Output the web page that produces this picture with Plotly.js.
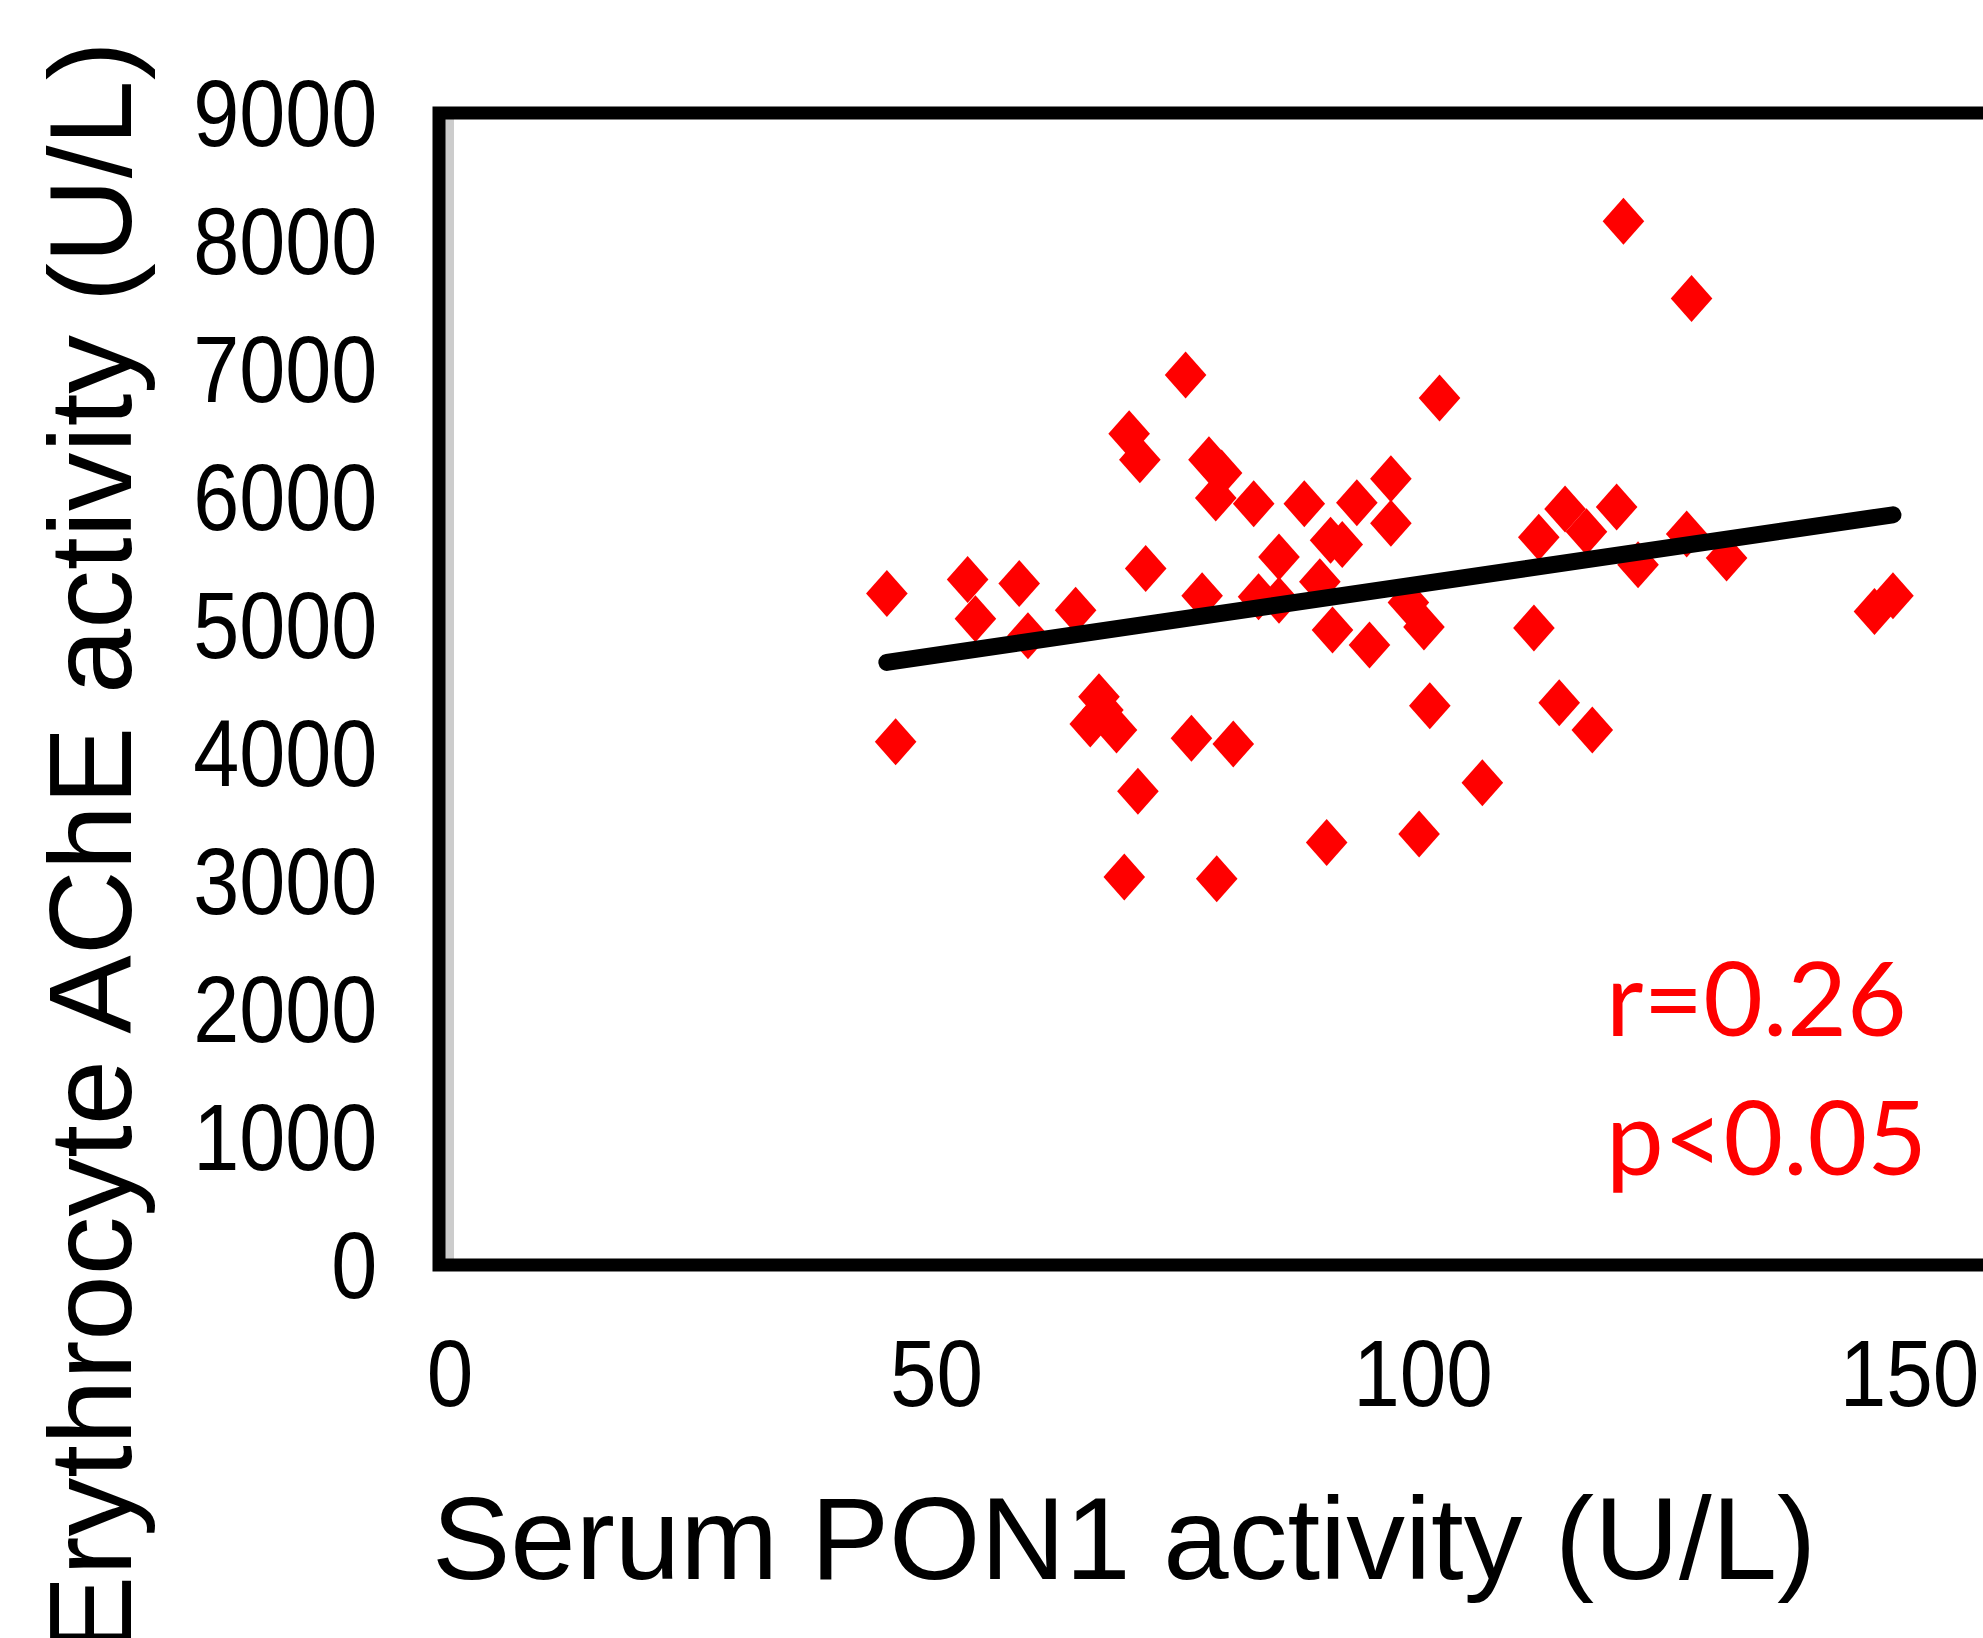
<!DOCTYPE html>
<html>
<head>
<meta charset="utf-8">
<script src="https://cdn.plot.ly/plotly-3.0.1.min.js"></script>
<style>
  html, body { margin: 0; padding: 0; background: #ffffff; overflow: hidden; width: 1983px; height: 1638px; }
  #chart { width: 2027px; height: 1638px; }
  .scatterlayer .js-line { stroke-linecap: round !important; }
</style>
</head>
<body>
<div id="chart"></div>
<script>
// Serum PON1 activity (U/L)
const ponActivity = [44.9, 45.8, 53.2, 54.0, 58.5, 59.4, 64.3, 66.7, 65.8, 68.5,
  67.1, 69.8, 70.9, 69.3, 70.7, 71.5, 75.6, 76.2, 77.3, 78.0,
  79.3, 78.7, 78.8, 80.5, 82.6, 83.1, 85.2, 85.2, 87.8, 89.4,
  90.1, 90.7, 90.5, 91.7, 93.2, 94.5, 96.7, 96.7, 98.5, 99.6,
  100.1, 100.7, 101.7, 106.1, 111.4, 111.9, 114.0, 114.6, 116.8, 117.4,
  119.9, 120.6, 122.1, 127.1, 127.6, 131.2, 146.4, 148.3];
// Erythrocyte AChE activity (U/L)
const acheActivity = [5246, 4087, 5355, 5049, 5324, 4916, 5116, 4440, 4227, 4180,
  4336, 6494, 6291, 3031, 3702, 5441, 6954, 4115, 5228, 6291,
  6187, 5992, 3018, 4071, 5948, 5220, 5532, 5194, 5948, 5337,
  3301, 4960, 5662, 5628, 5956, 4843, 5795, 6143, 5176, 3367,
  4984, 4370, 6773, 3767, 4976, 5685, 4393, 5906, 5729, 4180,
  5922, 8154, 5471, 5711, 7550, 5524, 5105, 5229];
// linear trend line end points
const trendX = [44.9, 148.3];
const trendY = [4708, 5861];
const xTickVals = [0, 50, 100, 150];
const xTickText = ['0', '50', '100', '150'];
const yTickVals = [0, 1000, 2000, 3000, 4000, 5000, 6000, 7000, 8000, 9000];
const yTickText = ['0', '1000', '2000', '3000', '4000', '5000', '6000', '7000', '8000', '9000'];
const statLines = ['r=0.26', 'p<0.05'];

const ML = 439, MT = 113, PW = 1568, PH = 1152;
function px(x) { return (x - ML) / PW; }
function py(y) { return 1 - (y - MT) / PH; }

const tickFont = { family: '"Liberation Sans", Arial, sans-serif', size: 94, color: '#000000' };
const titleFont = { family: '"Liberation Sans", Arial, sans-serif', size: 117.5, color: '#000000' };
const statFont = { family: 'Lato, "Open Sans", sans-serif', size: 103, color: '#ff0000' };

const traces = [
  {
    type: 'scatter', mode: 'markers',
    x: ponActivity, y: acheActivity,
    marker: { symbol: 'diamond', size: 32, color: '#ff0000', line: { width: 0 } },
    hoverinfo: 'skip'
  },
  {
    type: 'scatter', mode: 'lines',
    x: trendX, y: trendY,
    line: { color: '#000000', width: 17 },
    hoverinfo: 'skip'
  }
];

const layout = {
  width: ML + PW + 20, height: 1638,
  margin: { l: ML, r: 20, t: MT, b: 1638 - MT - PH, pad: 0 },
  paper_bgcolor: '#ffffff', plot_bgcolor: '#ffffff',
  showlegend: false, hovermode: false,
  xaxis: {
    range: [-1.13, 160.02], tickvals: xTickVals, ticktext: xTickText,
    showgrid: false, showline: false,
    zeroline: true, zerolinecolor: '#cccccc', zerolinewidth: 9,
    ticks: 'outside', ticklen: 27, tickcolor: 'rgba(0,0,0,0)',
    tickfont: tickFont, fixedrange: true
  },
  yaxis: {
    range: [0, 9000], tickvals: yTickVals, ticktext: yTickText,
    showgrid: false, showline: false, zeroline: false,
    ticks: 'outside', ticklen: 42, tickcolor: 'rgba(0,0,0,0)',
    tickfont: tickFont, fixedrange: true
  },
  shapes: [
    { type: 'rect', xref: 'paper', yref: 'paper', x0: 0, x1: 1, y0: 0, y1: 1,
      line: { color: '#000000', width: 13 }, fillcolor: 'rgba(0,0,0,0)', layer: 'above' }
  ],
  annotations: [
    { text: 'Serum PON1 activity (U/L)', xref: 'paper', yref: 'paper',
      x: px(1123.5), y: py(1538), xanchor: 'center', yanchor: 'middle',
      showarrow: false, font: titleFont },
    { text: 'Erythrocyte AChE activity (U/L)', xref: 'paper', yref: 'paper',
      x: px(90), y: py(848), xanchor: 'center', yanchor: 'middle', textangle: -90,
      showarrow: false, font: titleFont },
    { text: statLines[0], xref: 'paper', yref: 'paper',
      x: px(1604), y: py(996), xanchor: 'left', yanchor: 'middle',
      showarrow: false, font: statFont },
    { text: statLines[1], xref: 'paper', yref: 'paper',
      x: px(1604), y: py(1135), xanchor: 'left', yanchor: 'middle',
      showarrow: false, font: statFont }
  ]
};

// narrow the tick labels horizontally (the reference uses a condensed face)
function condense(selector, factor, anchor) {
  document.querySelectorAll(selector).forEach(function (t) {
    if (t.getAttribute('data-condensed')) return;
    var b = t.getBBox();
    var ax = anchor === 'end' ? b.x + b.width : b.x + b.width / 2;
    var tr = t.getAttribute('transform') || '';
    t.setAttribute('transform', tr + ' translate(' + ax + ',0) scale(' + factor + ',1) translate(' + (-ax) + ',0)');
    t.setAttribute('data-condensed', '1');
  });
}

Plotly.newPlot('chart', traces, layout, { staticPlot: true, displayModeBar: false }).then(function () {
  document.querySelectorAll('.scatterlayer .trace .points path.point').forEach(function (p) {
    var t = p.getAttribute('transform') || '';
    if (t.indexOf('scale') < 0) p.setAttribute('transform', t + ' scale(1,1.13)');
  });
  condense('.xtick text', 0.89, 'middle');
  condense('.ytick text', 0.88, 'end');
});
</script>
</body>
</html>
